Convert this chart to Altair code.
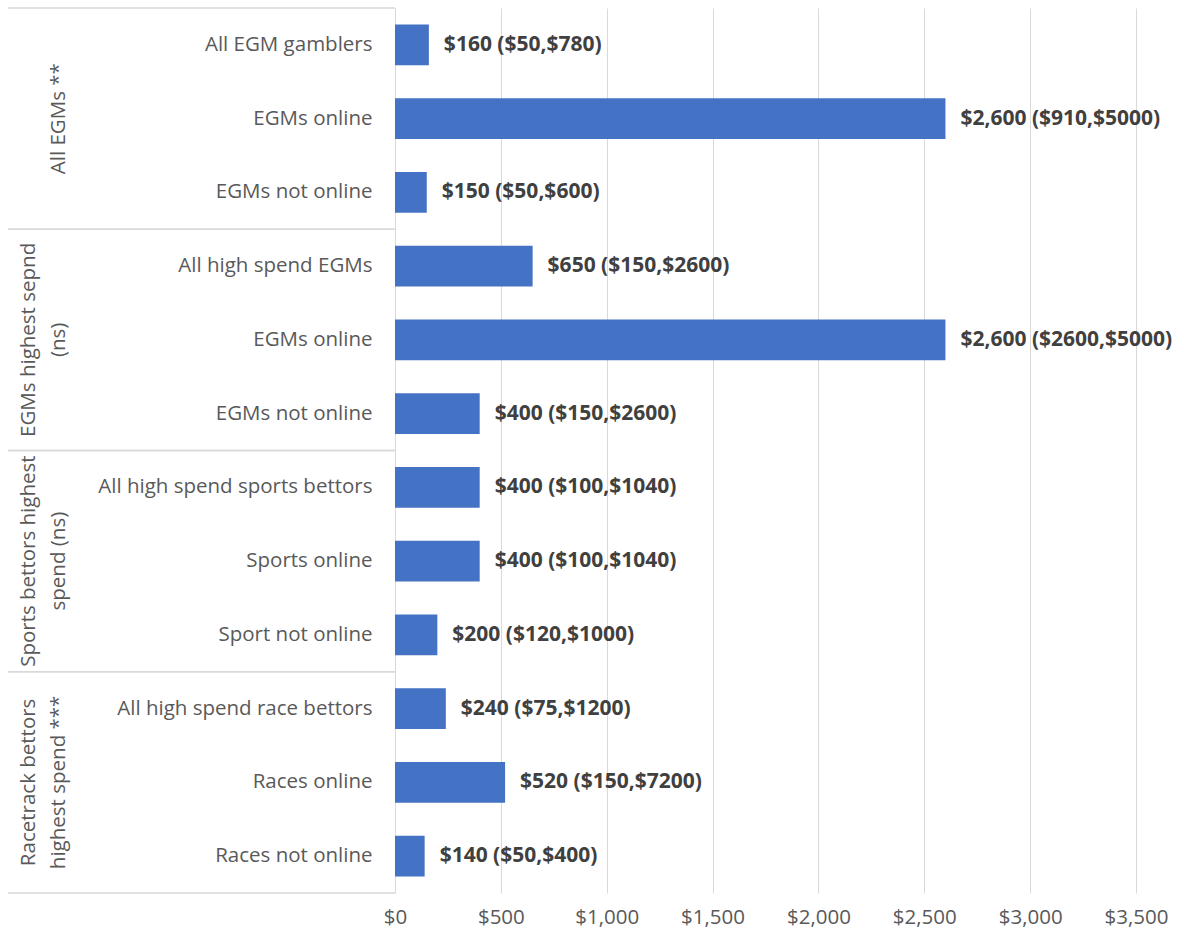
import altair as alt
import pandas as pd

groups = ["All EGMs **", "EGMs highest sepnd (ns)", "Sports bettors highest spend (ns)", "Racetrack bettors highest spend ***"]
group_lines = [["", "All EGMs **"], ["EGMs highest sepnd", "(ns)"], ["Sports bettors highest", "spend (ns)"], ["Racetrack bettors", "highest spend ***"]]
categories = ["All EGM gamblers", "EGMs online", "EGMs not online",
              "All high spend EGMs", "EGMs online", "EGMs not online",
              "All high spend sports bettors", "Sports online", "Sport not online",
              "All high spend race bettors", "Races online", "Races not online"]
group_of = [0, 0, 0, 1, 1, 1, 2, 2, 2, 3, 3, 3]
values = [160, 2600, 150, 650, 2600, 400, 400, 400, 200, 240, 520, 140]
labels = ["$160 ($50,$780)", "$2,600 ($910,$5000)", "$150 ($50,$600)",
          "$650 ($150,$2600)", "$2,600 ($2600,$5000)", "$400 ($150,$2600)",
          "$400 ($100,$1040)", "$400 ($100,$1040)", "$200 ($120,$1000)",
          "$240 ($75,$1200)", "$520 ($150,$7200)", "$140 ($50,$400)"]
x_ticks = [0, 500, 1000, 1500, 2000, 2500, 3000, 3500]

keys = [f"{i:02d}|{c}" for i, c in enumerate(categories)]
df = pd.DataFrame({"key": keys, "value": values, "label": labels,
                   "group": [groups[g] for g in group_of]})

gdf = pd.DataFrame({
    "group": groups,
    "lines": group_lines,
    "mid": [keys[3 * g + 1] for g in range(4)],
    "first": [keys[3 * g] for g in range(4)],
    "last": [keys[3 * g + 2] for g in range(4)],
})

FONT = "Open Sans"
FS = 20.5
yscale = alt.Scale(domain=keys, paddingInner=0, paddingOuter=0)

base = alt.Chart(df)

bars = base.mark_bar(color="#4472C4", height=alt.RelativeBandSize(0.555)).encode(
    x=alt.X("value:Q", scale=alt.Scale(domain=[0, 3500], nice=False),
            axis=alt.Axis(values=x_ticks, format="$,.0f", title=None, ticks=False,
                          domain=False, grid=True, gridColor="#d9d9d9", gridWidth=1,
                          labelFont=FONT, labelFontSize=FS, labelColor="#595959",
                          labelPadding=14, labelFlush=False)),
    y=alt.Y("key:N", sort=keys, scale=yscale,
            axis=alt.Axis(title=None, ticks=False, domain=True, domainColor="#d9d9d9",
                          labelExpr="split(datum.value, '|')[1]", labelFont=FONT,
                          labelFontSize=FS, labelColor="#595959", labelPadding=23,
                          labelLimit=400)),
)

text = base.mark_text(align="left", baseline="middle", dx=15, font=FONT,
                      fontSize=21, fontWeight="bold", color="#404040").encode(
    x="value:Q",
    y=alt.Y("key:N", sort=keys, scale=yscale),
    text="label:N",
)

gbase = alt.Chart(gdf)

glabels = gbase.mark_text(angle=270, align="center", baseline="middle", font=FONT,
                          fontSize=FS, color="#595959", lineHeight=30).encode(
    x=alt.value(-366),
    y=alt.Y("mid:N", sort=keys, scale=yscale),
    text="lines",
)

top_rules = gbase.mark_rule(color="#d9d9d9", strokeWidth=1.5).encode(
    x=alt.value(-387), x2=alt.value(0),
    y=alt.Y("first:N", sort=keys, scale=yscale, bandPosition=0),
)
bottom_rules = gbase.mark_rule(color="#d9d9d9", strokeWidth=1.5).encode(
    x=alt.value(-387), x2=alt.value(0),
    y=alt.Y("last:N", sort=keys, scale=yscale, bandPosition=1),
)

chart = alt.layer(top_rules, bottom_rules, bars, text, glabels).properties(
    width=741, height=885,
    autosize=alt.AutoSizeParams(type="none"),
    padding={"left": 395, "top": 8, "right": 48, "bottom": 45},
    background="white",
).configure_view(stroke=None)

chart.save("out.html", embed_options={"renderer": "svg", "actions": False})
